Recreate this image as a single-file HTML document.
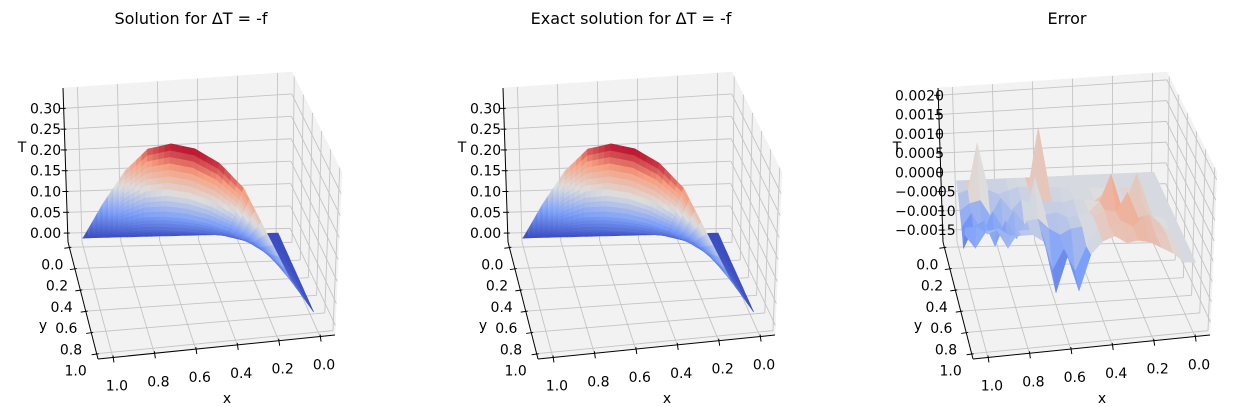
<!DOCTYPE html>
<html><head><meta charset="utf-8">
<style>
html,body{margin:0;padding:0;background:#fff;}
svg{display:block;font-family:"DejaVu Sans","Liberation Sans",sans-serif;}
</style></head>
<body>
<svg id="chart" width="1260" height="407" viewBox="0 0 1260 407" xmlns="http://www.w3.org/2000/svg">
<rect width="1260" height="407" fill="#fff"/>
<text x="191" y="24" text-anchor="middle" font-size="16">Solution for ΔT = -f</text>
<text x="631" y="24" text-anchor="middle" font-size="16">Exact solution for ΔT = -f</text>
<text x="1067" y="24" text-anchor="middle" font-size="16">Error</text>
</svg>
<script>
// ---- data ----
const xTicks = [0.0, 0.2, 0.4, 0.6, 0.8, 1.0];
const yTicks = [0.0, 0.2, 0.4, 0.6, 0.8, 1.0];
const zTicks1 = [0.00, 0.05, 0.10, 0.15, 0.20, 0.25, 0.30];
const zTickLabels1 = ["0.00","0.05","0.10","0.15","0.20","0.25","0.30"];
const zTicks3 = [-0.0015, -0.0010, -0.0005, 0.0000, 0.0005, 0.0010, 0.0015, 0.0020];
const zTickLabels3 = ["\u22120.0015","\u22120.0010","\u22120.0005","0.0000","0.0005","0.0010","0.0015","0.0020"];

// numerical solution: near-edge heights and cross profile
const solX = [1.0,0.9,0.8,0.7,0.6,0.5,0.4,0.3,0.2,0.1,0.0];
const solYEdge = [0.0,0.04,0.14,0.23,0.32,0.41,0.51,0.61,0.70,0.80,0.88];
const solEdgeT = [0.0,0.09,0.19,0.26,0.29,0.295,0.28,0.24,0.15,0.06,0.0];
const solProfile = [0,0.1,0.26,0.48,0.74,1.0];
// exact solution
const exaX = [1.0,0.9,0.8,0.7,0.6,0.5,0.4,0.3,0.2,0.1,0.0];
const exaYEdge = [0.0,0.04,0.14,0.23,0.32,0.41,0.51,0.61,0.70,0.80,0.88];
const exaEdgeT = [0.0,0.09,0.19,0.26,0.29,0.295,0.28,0.24,0.15,0.06,0.0];
const exaProfile = [0,0.1,0.26,0.48,0.74,1.0];
// error (x 1e-3), 21 columns x 7 rows
const errX = [1.0,0.95,0.9,0.85,0.8,0.75,0.7,0.65,0.6,0.55,0.5,0.45,0.4,0.35,0.3,0.25,0.2,0.15,0.1,0.05,0.0];
const errYEdge = [0.3,0.33,0.37,0.4,0.44,0.48,0.52,0.56,0.6,0.64,0.68,0.72,0.76,0.8,0.84,0.87,0.9,0.93,0.96,0.98,1.0];
const errRow0 = [-0.1,-0.1,-0.1,-0.1,-0.1,-0.1,-0.1,-0.1,-0.1,-0.1,-0.1,-0.1,-0.1,-0.1,-0.1,-0.1,-0.1,-0.1,-0.1,-0.1,-0.1];
const errRow1 = [-0.3,-0.2,1.0,-0.2,-0.3,-0.2,-0.1,-0.1,1.4,-0.1,-0.1,-0.1,-0.1,-0.1,-0.1,-0.1,-0.1,-0.1,-0.1,-0.1,-0.1];
const errRow2 = [-0.6,-0.4,-0.3,-0.7,-0.2,-0.5,-0.2,-0.3,-0.2,-0.2,-0.2,-0.1,-0.1,-0.1,0.1,-0.1,-0.1,0.6,-0.1,-0.1,-0.1];
const errRow3 = [-0.9,-0.5,-1.0,-0.4,-0.8,-0.3,-0.6,0.6,-0.3,-0.2,-0.3,-0.2,-0.1,0.2,0.9,0.1,0.1,0.2,-0.1,-0.1,-0.1];
const errRow4 = [-1.3,-0.7,-0.5,-1.1,-0.4,-0.8,-0.3,-0.2,-0.4,-0.5,-0.3,-0.2,0.1,0.3,0.3,0.8,0.2,0.3,0.1,-0.1,-0.1];
const errRow5 = [-0.8,-1.1,-0.6,-0.5,-0.9,-0.4,-0.3,-0.3,-1.2,-0.6,-1.1,-0.4,0.1,0.2,0.4,0.3,0.6,0.2,0.2,-0.1,-0.1];
const errRow6 = [-0.5,-0.4,-0.5,-0.3,-0.4,-0.3,-0.2,-0.3,-1.5,-0.5,-1.3,-0.3,0.1,0.3,0.2,0.3,0.3,0.2,0.1,-0.1,-0.1];

// ---- geometry ----
const NS = "http://www.w3.org/2000/svg";
const svg = document.getElementById("chart");
const BOX = {A:[68,242],B:[290,238],C:[335,335],D:[98,359],A2:[63,88],B2:[292,72],C2:[342,172],D2:[96,206]};
function bil(P,Q,R,S,u,v){
  return [(1-u)*(1-v)*P[0]+u*(1-v)*Q[0]+u*v*R[0]+(1-u)*v*S[0],
          (1-u)*(1-v)*P[1]+u*(1-v)*Q[1]+u*v*R[1]+(1-u)*v*S[1]];
}
function proj(dx,u,v,f){
  const a=bil(BOX.A,BOX.B,BOX.C,BOX.D,u,v), b=bil(BOX.A2,BOX.B2,BOX.C2,BOX.D2,u,v);
  return [dx+a[0]+f*(b[0]-a[0]), a[1]+f*(b[1]-a[1])];
}
const xToU = x => 0.063 + 0.874*(1-x);
const yToV = y => 0.045 + 0.91*y;
const zToF1 = z => (z+0.0215)/0.3705;
const zToF3 = z => (z+0.00181)/0.004;

function mk(tag, attrs, parent){
  const e=document.createElementNS(NS,tag);
  for(const k in attrs) e.setAttribute(k,attrs[k]);
  (parent||svg).appendChild(e); return e;
}
const pts = a => a.map(p=>p[0].toFixed(1)+","+p[1].toFixed(1)).join(" ");

function coolwarm(t){
  t=Math.max(0,Math.min(1,t));
  const st=[[0,59,76,192],[0.25,124,159,249],[0.5,221,221,221],[0.75,245,160,129],[1,180,4,38]];
  for(let i=0;i<st.length-1;i++){
    if(t<=st[i+1][0]){const k=(t-st[i][0])/(st[i+1][0]-st[i][0]);
      return "rgb("+[1,2,3].map(j=>Math.round(st[i][j]+k*(st[i+1][j]-st[i][j]))).join(",")+")";}
  }
  return "rgb(180,4,38)";
}

function drawBox(dx, zTicks, zToF, zLabels, zLabelX, pid){
  const g=mk("g",{});
  
  
  const panes=[[proj(dx,0,0,0),proj(dx,1,0,0),proj(dx,1,0,1),proj(dx,0,0,1)],
               [proj(dx,1,0,0),proj(dx,1,1,0),proj(dx,1,1,1),proj(dx,1,0,1)],
               [proj(dx,0,0,0),proj(dx,1,0,0),proj(dx,1,1,0),proj(dx,0,1,0)]];
  const pn=["back-pane","side-pane","floor-pane"];
  panes.forEach((p,i)=>{
    const e=mk("polygon",{points:pts(p),fill:"#f2f2f2",stroke:"#f2f2f2","stroke-width":"0.5"},g);
    
    
  });
  const gl={stroke:"#c4c4c4","stroke-width":"0.9",fill:"none"};
  function line(a,b,name){const e=mk("line",Object.assign({x1:a[0],y1:a[1],x2:b[0],y2:b[1]},gl),g);
    
    }
  xTicks.forEach(x=>{const u=xToU(x);
    line(proj(dx,u,0,0),proj(dx,u,0,1),pid+'-grid-x-back');
    line(proj(dx,u,0,0),proj(dx,u,1,0),pid+'-grid-x-floor');});
  yTicks.forEach(y=>{const v=yToV(y);
    line(proj(dx,1,v,0),proj(dx,1,v,1),pid+'-grid-y-side');
    line(proj(dx,0,v,0),proj(dx,1,v,0),pid+'-grid-y-floor');});
  zTicks.forEach(z=>{const f=zToF(z);
    line(proj(dx,0,0,f),proj(dx,1,0,f),pid+'-grid-z-back');
    line(proj(dx,1,0,f),proj(dx,1,1,f),pid+'-grid-z-side');});
  const al={stroke:"#000","stroke-width":"1",fill:"none"};
  const axes=[[proj(dx,0,0,1),proj(dx,0,0,0),"z-axis-line"],[proj(dx,0,0,0),proj(dx,0,1,0),"y-axis-line"],[proj(dx,0,1,0),proj(dx,1,1,0),"x-axis-line"]];
  axes.forEach(a=>{const e=mk("line",Object.assign({x1:a[0][0],y1:a[0][1],x2:a[1][0],y2:a[1][1]},al),g);
    
    });
  zTicks.forEach((z,i)=>{const p=proj(dx,0,0,zToF(z));
    const t=mk("line",{x1:p[0]-4,y1:p[1],x2:p[0]+2,y2:p[1],stroke:"#000","stroke-width":"1"},g);
    
    
    const l=mk("text",{x:dx+zLabelX,y:p[1]+5,"font-size":"14"},g); l.textContent=zLabels[i];
    
    });
  yTicks.forEach(y=>{const p=proj(dx,0,yToV(y),0);
    const t=mk("line",{x1:p[0]-5,y1:p[1]+1,x2:p[0]+2,y2:p[1],stroke:"#000","stroke-width":"1"},g);
    
    
    const l=mk("text",{x:p[0]-17-y*4,y:p[1]+22,"font-size":"14","text-anchor":"middle"},g); l.textContent=y.toFixed(1);
    
    });
  xTicks.forEach(x=>{const p=proj(dx,xToU(x),1,0);
    const t=mk("line",{x1:p[0],y1:p[1]-2,x2:p[0]+1,y2:p[1]+5,stroke:"#000","stroke-width":"1"},g);
    
    
    const l=mk("text",{x:p[0]+4,y:p[1]+33,"font-size":"14","text-anchor":"middle"},g); l.textContent=x.toFixed(1);
    
    });
  const labs=[["x",dx+227,403,"x-axis-title"],["y",dx+43,330,"y-axis-title"],["T",dx+22,152,"z-axis-title"]];
  labs.forEach(a=>{const l=mk("text",{x:a[1],y:a[2],"font-size":"14","text-anchor":"middle"},g); l.textContent=a[0];
    
    });
}

function drawSurface(dx, xs, yEdge, grid, zToF, pid, N){
  const g=mk("g",{});
  
  
  const R=grid.length, C=xs.length;
  let vmin=Infinity,vmax=-Infinity;
  grid.forEach(r=>r.forEach(v=>{vmin=Math.min(vmin,v);vmax=Math.max(vmax,v);}));
  const FR=(R-1)*N+1, FC=(C-1)*N+1;
  function sample(fr,fc){
    const r=fr/N, c=fc/N, r0=Math.min(Math.floor(r),R-2), c0=Math.min(Math.floor(c),C-2);
    const a=r-r0, b=c-c0;
    const z=(1-a)*(1-b)*grid[r0][c0]+(1-a)*b*grid[r0][c0+1]+a*(1-b)*grid[r0+1][c0]+a*b*grid[r0+1][c0+1];
    const x=xs[c0]+b*(xs[c0+1]-xs[c0]);
    const ye=yEdge[c0]+b*(yEdge[c0+1]-yEdge[c0]);
    const y=ye*(fr/(FR-1));
    return {u:xToU(x),v:yToV(y),z:z};
  }
  const S=[];
  for(let r=0;r<FR;r++){S.push([]);for(let c=0;c<FC;c++)S[r].push(sample(r,c));}
  const quads=[];
  for(let r=0;r<FR-1;r++)for(let c=0;c<FC-1;c++){
    const q=[S[r][c],S[r][c+1],S[r+1][c+1],S[r+1][c]];
    quads.push({q:q,d:(q[0].v+q[1].v+q[2].v+q[3].v)/4,z:(q[0].z+q[1].z+q[2].z+q[3].z)/4});
  }
  quads.sort((a,b)=>a.d-b.d);
  quads.forEach(Q=>{
    const col=coolwarm((Q.z-vmin)/(vmax-vmin||1));
    const e=mk("polygon",{points:pts(Q.q.map(p=>proj(dx,p.u,p.v,zToF(p.z)))),fill:col,stroke:col,"stroke-width":"0.6","stroke-linejoin":"round"},g);
    
    
  });
}

function buildGrid(edge, prof){ return prof.map(p=>edge.map(t=>t*p)); }

drawBox(0, zTicks1, zToF1, zTickLabels1, 30, "solution");
drawSurface(0, solX, solYEdge, buildGrid(solEdgeT, solProfile), zToF1, "solution", 4);
drawBox(440, zTicks1, zToF1, zTickLabels1, 30, "exact");
drawSurface(440, exaX, exaYEdge, buildGrid(exaEdgeT, exaProfile), zToF1, "exact", 4);
drawBox(875, zTicks3, zToF3, zTickLabels3, 20, "error");
const errGrid=[errRow0,errRow1,errRow2,errRow3,errRow4,errRow5,errRow6].map(r=>r.map(v=>v*1e-3));
drawSurface(875, errX, errYEdge, errGrid, zToF3, "error", 1);
</script>
</body></html>
